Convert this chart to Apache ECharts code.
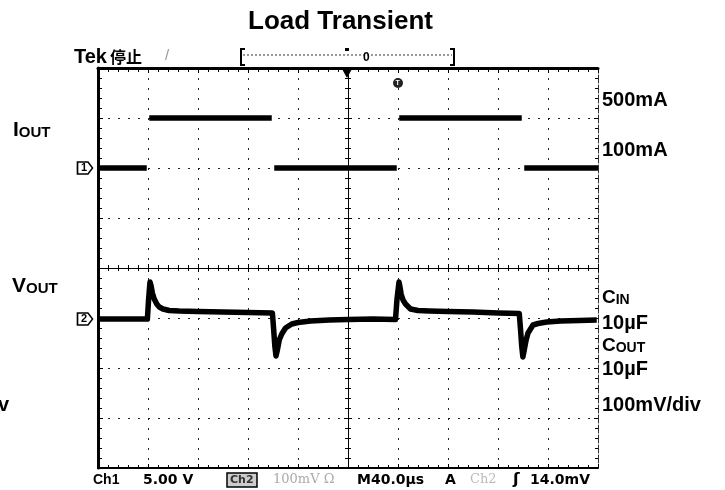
<!DOCTYPE html>
<html><head><meta charset="utf-8">
<script src="https://cdn.jsdelivr.net/npm/echarts@6/dist/echarts.min.js"></script>
<style>html,body{margin:0;padding:0;background:#fff}#c{width:725px;height:490px}</style>
</head><body><div id="c"></div>
<script>
// ---- data ----
const timeMinUs = 0, timeMaxUs = 400, usPerDiv = 40;     // M 40.0µs, 10 div
const divMin = 0, divMax = 8;                             // 8 vertical divisions
// Iout trace (Ch1): edges in µs and levels in mA
const ioutEdgesUs = [0, 40, 140, 240, 340, 400];
const ioutLevelsMa = [100, 500, 100, 500, 100];
// Vout trace (Ch2): deviation from its marker level, mV (100 mV/div)
const voutTimeUs = [0, 20, 39.5, 40.5, 41.6, 42.5, 43.5, 45, 47, 49, 52, 57, 65, 80, 100, 120, 139.5,
  140.5, 141.5, 142.4, 143.5, 145, 147, 150, 155, 160, 170, 185, 200, 220, 238,
  239.2, 240.8, 241.6, 242.5, 244, 246, 250, 256, 265, 280, 300, 320, 337,
  338, 339, 339.9, 341, 342.5, 344, 348, 352, 359, 370, 385, 399];
const voutMv = [0, 0, 0, 40, 74, 66, 52, 40, 30, 24, 20, 17, 16, 15, 14, 13, 12,
  -20, -55, -74, -62, -42, -30, -18, -10, -7, -4, -2, -1, 0, -1,
  40, 74, 64, 50, 38, 30, 20, 17, 16, 15, 14, 12, 11,
  -20, -55, -76, -62, -42, -28, -12, -9, -6, -4, -3, -2];
// channel scales
const ioutMaPerDiv = 400, ioutMarkerDiv = 6, ioutMarkerMa = 100;
const voutMvPerDiv = 100, voutMarkerDiv = 2.98;
const rightLabels = ['500mA', '100mA'];

// ---- build ----
const ioutData = [];
for (let i = 0; i < ioutLevelsMa.length; i++) {
  const a = ioutEdgesUs[i] + (i === 0 ? 0 : 1);
  const b = ioutEdgesUs[i + 1] - (i === ioutLevelsMa.length - 1 ? 0 : 1);
  ioutData.push([a, ioutLevelsMa[i]], [b, ioutLevelsMa[i]]);
  if (i < ioutLevelsMa.length - 1) ioutData.push([ioutEdgesUs[i + 1], '-']);
}
const voutData = voutTimeUs.map((t, i) => [t, voutMv[i]]);

const BLK = '#000';
const dotted = { color: '#222', width: 1, type: [2, 8] };
function xAx(o) {
  return Object.assign({ type: 'value', min: timeMinUs, max: timeMaxUs, interval: usPerDiv,
    axisLabel: { show: false }, splitLine: { show: false }, minorSplitLine: { show: false } }, o);
}
function yAx(o) {
  return Object.assign({ type: 'value', min: divMin, max: divMax, interval: 1,
    axisLabel: { show: false }, splitLine: { show: false }, minorSplitLine: { show: false } }, o);
}
const tick = (inside, len, show) => ({ show: show !== false, inside, length: len, lineStyle: { color: BLK, width: 1 } });
const minor = (len) => ({ show: true, splitNumber: 5, length: len, lineStyle: { color: BLK, width: 1 } });

const SANS = 'Liberation Sans, Arial, sans-serif';
const DV = 'DejaVu Sans, sans-serif';
function txt(x, y, text, font, extra) {
  return { type: 'text', x, y, silent: true,
    style: Object.assign({ text, font, fill: BLK, verticalAlign: 'middle', align: 'left' }, extra || {}) };
}
function smallCaps(x, y, big, small, bs, ss) {
  return { type: 'text', x, y, silent: true,
    style: { text: '{a|' + big + '}{b|' + small + '}', verticalAlign: 'middle', align: 'left',
      rich: { a: { fontFamily: SANS, fontWeight: 'bold', fontSize: bs, lineHeight: bs, verticalAlign: 'bottom', fill: BLK, color: BLK },
              b: { fontFamily: SANS, fontWeight: 'bold', fontSize: ss, lineHeight: ss, verticalAlign: 'bottom', fill: BLK, color: BLK } } } };
}

const graphics = [
  // header
  { type: 'text', x: 74, y: 57, silent: true, style: { text: '{a|Tek}{b|停止}', verticalAlign: 'middle',
      rich: { a: { fontFamily: SANS, fontWeight: 'bold', fontSize: 20, letterSpacing: -1, padding: [0, 3, 0, 0] }, b: { fontFamily: 'Noto Sans CJK SC', fontWeight: 'bold', fontSize: 16 } } } },
  txt(165, 56, '/', '15px ' + SANS, { fill: '#999' }),
  { type: 'polyline', silent: true, shape: { points: [[245, 49], [241, 49], [241, 65], [245, 65]] }, style: { stroke: BLK, lineWidth: 2, fill: null } },
  { type: 'polyline', silent: true, shape: { points: [[450, 49], [454, 49], [454, 65], [450, 65]] }, style: { stroke: BLK, lineWidth: 2, fill: null } },
  { type: 'line', silent: true, shape: { x1: 243, y1: 55, x2: 452, y2: 55 }, style: { stroke: '#333', lineWidth: 1, lineDash: [2, 2] } },
  { type: 'rect', silent: true, shape: { x: 345, y: 48, width: 4, height: 3 }, style: { fill: BLK } },
  txt(363, 58, '0', 'bold 12px ' + SANS),
  { type: 'polygon', silent: true, shape: { points: [[342, 69], [352, 69], [347, 78]] }, style: { fill: BLK } },
  { type: 'circle', silent: true, shape: { cx: 398, cy: 83, r: 5 }, style: { fill: '#222' } },
  txt(395.5, 83, 'T', 'bold 7px ' + SANS, { fill: '#fff' }),
  // left labels
  smallCaps(13, 130, 'I', 'OUT', 21, 15),
  smallCaps(12, 286, 'V', 'OUT', 21, 15),
  txt(9, 405, 'v', 'bold 20px ' + SANS, { align: 'right' }),
  // right labels
  txt(602, 100.5, rightLabels[0], 'bold 20px ' + SANS),
  txt(602, 150.5, rightLabels[1], 'bold 20px ' + SANS),
  smallCaps(602, 298, 'C', 'IN', 19, 14),
  txt(602, 323, '10µF', 'bold 20px ' + SANS),
  smallCaps(602, 346, 'C', 'OUT', 19, 14),
  txt(602, 369, '10µF', 'bold 20px ' + SANS),
  txt(602, 405, '100mV/div', 'bold 20px ' + SANS),
  // bottom status bar
  txt(93, 480, 'Ch1', 'bold 14px ' + SANS),
  txt(143, 480, '5.00 V', 'bold 14px ' + DV),
  { type: 'rect', silent: true, shape: { x: 227, y: 473, width: 30, height: 14 }, style: { fill: '#ccc', stroke: BLK, lineWidth: 1.5 } },
  txt(230, 480, 'Ch2', 'bold 11px ' + DV, { fill: '#333' }),
  txt(273, 480, '100mV Ω', '13px DejaVu Serif, serif', { fill: '#aaa' }),
  txt(357, 480, 'M40.0µs', 'bold 14px ' + DV),
  txt(445, 480, 'A', 'bold 14px ' + DV),
  txt(470, 480, 'Ch2', '13px DejaVu Serif, serif', { fill: '#bbb' }),
  txt(513, 480, 'ʃ', 'bold 16px ' + DV),
  txt(530, 480, '14.0mV', 'bold 14px ' + DV)
];

const markerSym = 'path://M0,0 L9,0 L13,6 L9,12 L0,12 Z';
function marker(label, coord) {
  return { symbol: markerSym, symbolSize: [15, 12], symbolOffset: [-13, 0], silent: true,
    itemStyle: { color: '#fff', borderColor: BLK, borderWidth: 1.5 },
    label: { show: true, position: 'inside', offset: [-1, 0], formatter: label, color: BLK, fontSize: 11, fontWeight: 'bold', fontFamily: SANS },
    data: [{ coord }] };
}

const chart = echarts.init(document.getElementById('c'), null, { renderer: 'canvas' });
chart.setOption({
  backgroundColor: '#fff',
  animation: false,
  title: { text: 'Load Transient', left: 243, top: 4,
    textStyle: { fontFamily: SANS, fontWeight: 'bold', fontSize: 26, color: BLK } },
  grid: { left: 98, top: 68, width: 500, height: 400, outerBoundsMode: 'none', containLabel: false },
  xAxis: [
    xAx({ position: 'bottom', axisLine: { onZero: false, lineStyle: { color: BLK, width: 2 } }, axisTick: tick(true, 4), minorTick: minor(3),
      splitLine: { show: true, lineStyle: dotted } }),
    xAx({ position: 'top', axisLine: { onZero: false, lineStyle: { color: BLK, width: 3 } }, axisTick: tick(true, 5), minorTick: minor(4) }),
    xAx({ position: 'bottom', offset: -200, axisLine: { onZero: false, lineStyle: { color: BLK, width: 1 } }, axisTick: tick(true, 4), minorTick: minor(3) }),
    xAx({ position: 'bottom', offset: -200, axisLine: { show: false, onZero: false }, axisTick: tick(false, 4), minorTick: minor(3) })
  ],
  yAxis: [
    yAx({ position: 'left', axisLine: { show: true, onZero: false, lineStyle: { color: BLK, width: 3 } }, axisTick: tick(true, 5), minorTick: minor(4),
      splitLine: { show: true, lineStyle: dotted } }),
    yAx({ position: 'right', axisLine: { show: true, onZero: false, lineStyle: { color: '#333', width: 1, type: [3, 2] } }, axisTick: tick(true, 4), minorTick: minor(3) }),
    yAx({ position: 'left', offset: -250, axisLine: { show: true, onZero: false, lineStyle: { color: BLK, width: 1 } }, axisTick: tick(true, 4), minorTick: minor(3) }),
    yAx({ position: 'left', offset: -250, axisLine: { show: false, onZero: false }, axisTick: tick(false, 4), minorTick: minor(3) }),
    { type: 'value', show: false, position: 'left',
      min: ioutMarkerMa - ioutMarkerDiv * ioutMaPerDiv, max: ioutMarkerMa + (divMax - ioutMarkerDiv) * ioutMaPerDiv },
    { type: 'value', show: false, position: 'left',
      min: -voutMarkerDiv * voutMvPerDiv, max: (divMax - voutMarkerDiv) * voutMvPerDiv }
  ],
  series: [
    { name: 'Iout', type: 'line', xAxisIndex: 0, yAxisIndex: 4, data: ioutData, showSymbol: false, symbol: 'none',
      connectNulls: false, clip: false, lineStyle: { color: BLK, width: 5.5, cap: 'butt' }, z: 5,
      markPoint: marker('1', [timeMinUs, ioutMarkerMa]) },
    { name: 'Vout', type: 'line', xAxisIndex: 0, yAxisIndex: 5, data: voutData, showSymbol: false, symbol: 'none',
      clip: false, lineStyle: { color: BLK, width: 5.5, join: 'round' }, z: 5,
      markPoint: marker('2', [timeMinUs, 0]) }
  ],
  graphic: graphics
});
</script></body></html>
